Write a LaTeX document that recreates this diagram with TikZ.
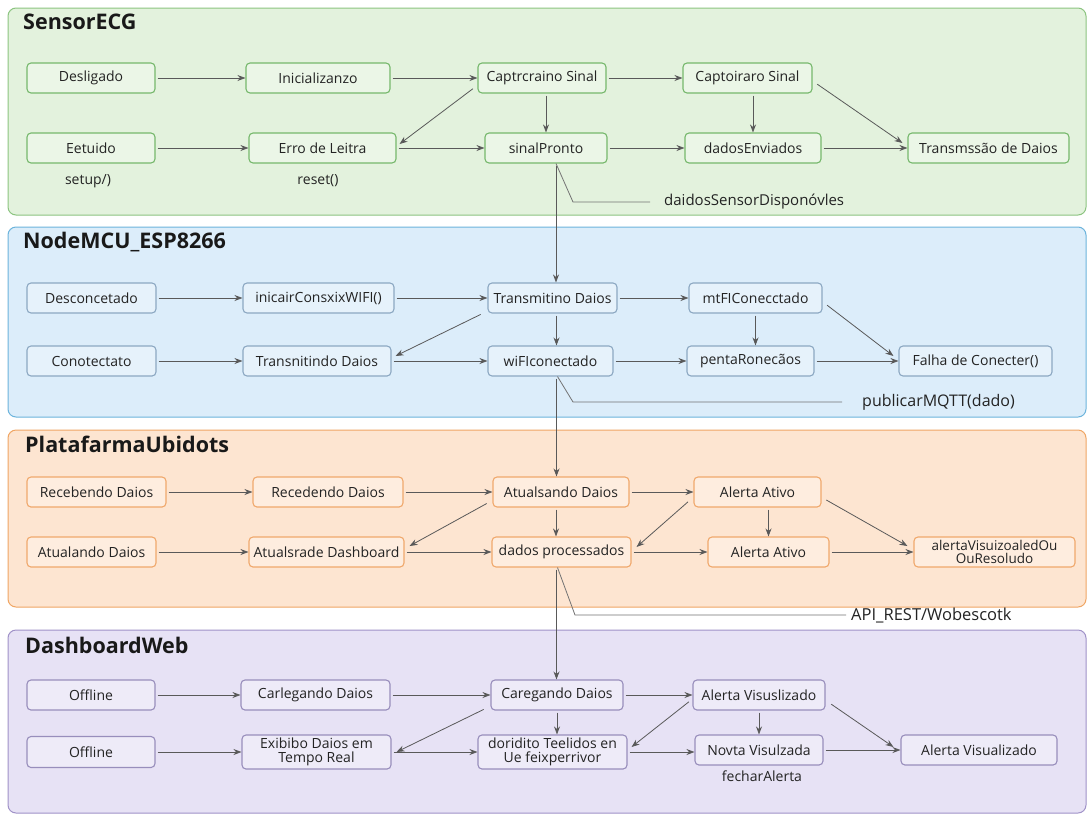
\documentclass[tikz,border=0pt]{standalone}
\usepackage{fontspec}
\setmainfont{Open Sans}
\usetikzlibrary{arrows.meta}
\definecolor{gfill}{RGB}{227,242,221}
\definecolor{gline}{RGB}{140,196,128}
\definecolor{gbox}{RGB}{118,184,108}
\definecolor{bfill}{RGB}{220,237,250}
\definecolor{bline}{RGB}{108,180,220}
\definecolor{bbox}{RGB}{140,168,194}
\definecolor{ofill}{RGB}{253,229,209}
\definecolor{oline}{RGB}{240,166,100}
\definecolor{obox}{RGB}{240,168,108}
\definecolor{pfill}{RGB}{231,226,245}
\definecolor{pline}{RGB}{160,146,200}
\definecolor{pbox}{RGB}{152,142,188}
\definecolor{txt}{RGB}{35,35,35}
\begin{document}
\begin{tikzpicture}[x=1pt,y=-1pt,
  font=\fontsize{14}{15}\selectfont,
  lane/.style={rounded corners=8pt, line width=1pt},
  box/.style={draw, rounded corners=4pt, line width=1.1pt, minimum height=30pt, inner sep=1pt, align=center, text=txt},
  gb/.style={box, draw=gbox, fill=gfill!70!white},
  bb/.style={box, draw=bbox, fill=bfill!70!white},
  ob/.style={box, draw=obox, fill=ofill!70!white},
  pb/.style={box, draw=pbox, fill=pfill!70!white},
  ttl/.style={anchor=west, font=\fontsize{21.5}{24}\selectfont\bfseries, text=black!90, inner sep=0pt},
  lbl/.style={font=\fontsize{14}{15}\selectfont, text=txt, inner sep=0pt},
  blbl/.style={anchor=west, text=txt, inner sep=0pt},
  arr/.style={draw=black!65, line width=0.8pt, -{Stealth[length=8pt,width=6pt]}, shorten <=2pt},
  lline/.style={draw=black!55, line width=0.8pt}
]
\useasboundingbox (0,0) rectangle (1088,815);
\fill[white] (0,0) rectangle (1088,815);
% lanes
\draw[lane, fill=gfill, draw=gline] (8,8) rectangle (1086,215);
\draw[lane, fill=bfill, draw=bline] (8,227) rectangle (1086,417);
\draw[lane, fill=ofill, draw=oline] (8,430) rectangle (1086,607);
\draw[lane, fill=pfill, draw=pline] (8,630) rectangle (1086,813);
\node[ttl] (t1) at (23,22) {SensorECG};
\node[ttl] (t2) at (23,242) {NodeMCU\_ESP8266};
\node[ttl] (t3) at (25,444) {PlatafarmaUbidots};
\node[ttl] (t4) at (25,645) {DashboardWeb};
% lane 1
\node[gb, minimum width=128pt] (des) at (91,78) {Desligado};
\node[gb, minimum width=144pt] (ini) at (318,78) {Inicializanzo};
\node[gb, minimum width=128pt] (cap1) at (542,78) {Captrcraino Sinal};
\node[gb, minimum width=129pt] (cap2) at (747.5,78) {Captoiraro Sinal};
\node[gb, minimum width=128pt] (eet) at (91,148) {Eetuido};
\node[gb, minimum width=147pt] (erro) at (322.5,148) {Erro de Leitra};
\node[gb, minimum width=122pt] (sp) at (546,148) {sinalPronto};
\node[gb, minimum width=136pt] (de) at (753,148) {dadosEnviados};
\node[gb, minimum width=161pt] (tr) at (988.5,148) {Transmssão de Daios};
\node[lbl] (setup) at (88,181) {setup/)};
\node[lbl] (reset) at (318,181) {reset()};
\draw[arr] (des) -- (ini);
\draw[arr] (ini) -- (cap1);
\draw[arr] (cap1) -- (cap2);
\draw[arr] (eet) -- (erro);
\draw[arr] (erro) -- (sp);
\draw[arr] (sp) -- (de);
\draw[arr] (de) -- (tr);
\draw[arr] (sp.north |- cap1.south) -- (sp.north);
\draw[arr] (de.north |- cap2.south) -- (de.north);
\draw[arr] ([xshift=-3pt,yshift=6pt]cap1.south west) -- ([xshift=3pt,yshift=4pt]erro.east);
\draw[arr] ([xshift=3pt,yshift=-5pt]cap2.east) -- ([xshift=-5pt,yshift=5pt]tr.west);
% lane 2
\node[bb, minimum width=129pt] (dc) at (91.5,298) {Desconcetado};
\node[bb, minimum width=151pt] (ic) at (318.5,298) {inicairConsxixWIFI()};
\node[bb, minimum width=129pt] (tm) at (552.5,298) {Transmitino Daios};
\node[bb, minimum width=133pt] (mt) at (755.5,298) {mtFIConecctado};
\node[bb, minimum width=129pt] (co) at (91.5,361) {Conotectato};
\node[bb, minimum width=148pt] (tn) at (317,361) {Transnitindo Daios};
\node[bb, minimum width=125pt] (wf) at (550.5,361) {wiFIconectado};
\node[bb, minimum width=127pt] (pr) at (750.5,361) {pentaRonecãos};
\node[bb, minimum width=153pt] (fa) at (975.5,361) {Falha de Conecter()};
\draw[arr] (dc) -- (ic);
\draw[arr] (ic) -- (tm);
\draw[arr] (tm) -- (mt);
\draw[arr] (co) -- (tn);
\draw[arr] (tn) -- (wf);
\draw[arr] (wf) -- (pr);
\draw[arr] (pr) -- (fa);
\draw[arr] ([xshift=4pt]tm.south) -- ([xshift=4pt]tm.south |- wf.north);
\draw[arr] (mt.south) -- (mt.south |- pr.north);
\draw[arr] ([xshift=-5pt,yshift=0pt]tm.south west) -- ([xshift=4pt,yshift=5pt]tn.east);
\draw[arr] ([xshift=3pt,yshift=-6pt]mt.east) -- ([xshift=-5pt,yshift=5pt]fa.west);
% lane 3
\node[ob, minimum width=139pt] (rb) at (96.5,492) {Recebendo Daios};
\node[ob, minimum width=150pt] (rd) at (328,492) {Recedendo Daios};
\node[ob, minimum width=136pt] (at) at (561,492) {Atualsando Daios};
\node[ob, minimum width=127pt] (aa1) at (757.5,492) {Alerta Ativo};
\node[ob, minimum width=129pt] (au) at (91.5,552) {Atualando Daios};
\node[ob, minimum width=155pt] (ad) at (326.5,552) {Atualsrade Dashboard};
\node[ob, minimum width=139pt] (dp) at (561.5,552) {dados processados};
\node[ob, minimum width=121pt] (aa2) at (768.5,552) {Alerta Ativo};
\node[ob, minimum width=161pt, font=\fontsize{13.5}{12.5}\selectfont] (av) at (994.5,552) {alertaVisuizoaledOu\\OuResoludo};
\draw[arr] (rb) -- (rd);
\draw[arr] (rd) -- (at);
\draw[arr] (at) -- (aa1);
\draw[arr] (au) -- (ad);
\draw[arr] (ad) -- (dp);
\draw[arr] (dp) -- (aa2);
\draw[arr] (aa2) -- (av);
\draw[arr] ([xshift=-5pt]at.south) -- ([xshift=-5pt]at.south |- dp.north);
\draw[arr] (aa2.north |- aa1.south) -- (aa2.north);
\draw[arr] ([xshift=-4pt,yshift=5pt]at.south west) -- ([xshift=5pt,yshift=6pt]ad.east);
\draw[arr] ([xshift=-4pt,yshift=7pt]aa1.south west) -- ([xshift=5pt,yshift=5pt]dp.east);
\draw[arr] ([xshift=3pt,yshift=-7pt]aa1.east) -- ([xshift=-6pt,yshift=6pt]av.west);
% lane 4
\node[pb, minimum width=128pt] (of1) at (91,695) {Offline};
\node[pb, minimum width=149pt] (cl) at (315.5,695) {Carlegando Daios};
\node[pb, minimum width=132pt] (cg) at (557,695) {Caregando Daios};
\node[pb, minimum width=132pt] (avz) at (759,695) {Alerta Visuslizado};
\node[pb, minimum width=128pt, minimum height=31pt] (of2) at (91,752) {Offline};
\node[pb, minimum width=149pt, minimum height=34pt, font=\fontsize{14}{14.5}\selectfont] (ex) at (316.5,752) {Exibibo Daios em\\Tempo Real};
\node[pb, minimum width=149pt, minimum height=34pt, font=\fontsize{14}{14.5}\selectfont] (dt) at (552.5,752) {doridito Teelidos en\\Ue feixperrivor};
\node[pb, minimum width=128pt] (nv) at (759,750) {Novta Visulzada};
\node[pb, minimum width=156pt] (avf) at (979,750) {Alerta Visualizado};
\node[lbl] (fech) at (762,776) {fecharAlerta};
\draw[arr] (of1) -- (cl);
\draw[arr] (cl) -- (cg);
\draw[arr] (cg) -- (avz);
\draw[arr] (of2) -- (ex);
\draw[arr] (ex) -- (dt);
\draw[arr] (dt.east) -- (nv.west |- dt.east);
\draw[arr] (nv) -- (avf);
\draw[arr] (cg.south) -- (cg.south |- dt.north);
\draw[arr] (avz.south) -- (avz.south |- nv.north);
\draw[arr] ([xshift=-5pt,yshift=2pt]cg.south west) -- ([xshift=5pt]ex.east);
\draw[arr] ([xshift=-2pt,yshift=10pt]avz.south west) -- ([xshift=4pt,yshift=5pt]dt.east);
\draw[arr] ([xshift=4pt,yshift=-8pt]avz.east) -- ([xshift=-7pt,yshift=3pt]avf.west);
% long verticals between lanes
\draw[arr] ([xshift=10pt]sp.south) -- ([xshift=10pt]sp.south |- tm.north);
\draw[arr] ([xshift=6pt]wf.south) -- ([xshift=6pt]wf.south |- at.north);
\draw[arr] ([xshift=-5pt]dp.south) -- ([xshift=-5pt]dp.south |- cg.north);
% callout labels
\node[blbl, font=\fontsize{15}{16}\selectfont] (l1) at (664,202) {daidosSensorDisponóvles};
\node[blbl, font=\fontsize{16}{17}\selectfont] (l2) at (862,402) {publicarMQTT(dado)};
\node[blbl, font=\fontsize{16.5}{17}\selectfont] (l3) at (851,615) {API\_REST/Wobescotk};
\coordinate (b1) at (573,202);
\coordinate (e1) at (650,202);
\coordinate (b2) at (573,402);
\coordinate (e2) at (842,402);
\coordinate (b3) at (575,615);
\coordinate (e3) at (846,615);
\draw[lline] ([xshift=10pt]sp.south) -- (b1) -- (e1);
\draw[lline] ([xshift=7pt]wf.south) -- (b2) -- (e2);
\draw[lline] ([xshift=-4pt]dp.south) -- (b3) -- (e3);
\end{tikzpicture}
\end{document}
